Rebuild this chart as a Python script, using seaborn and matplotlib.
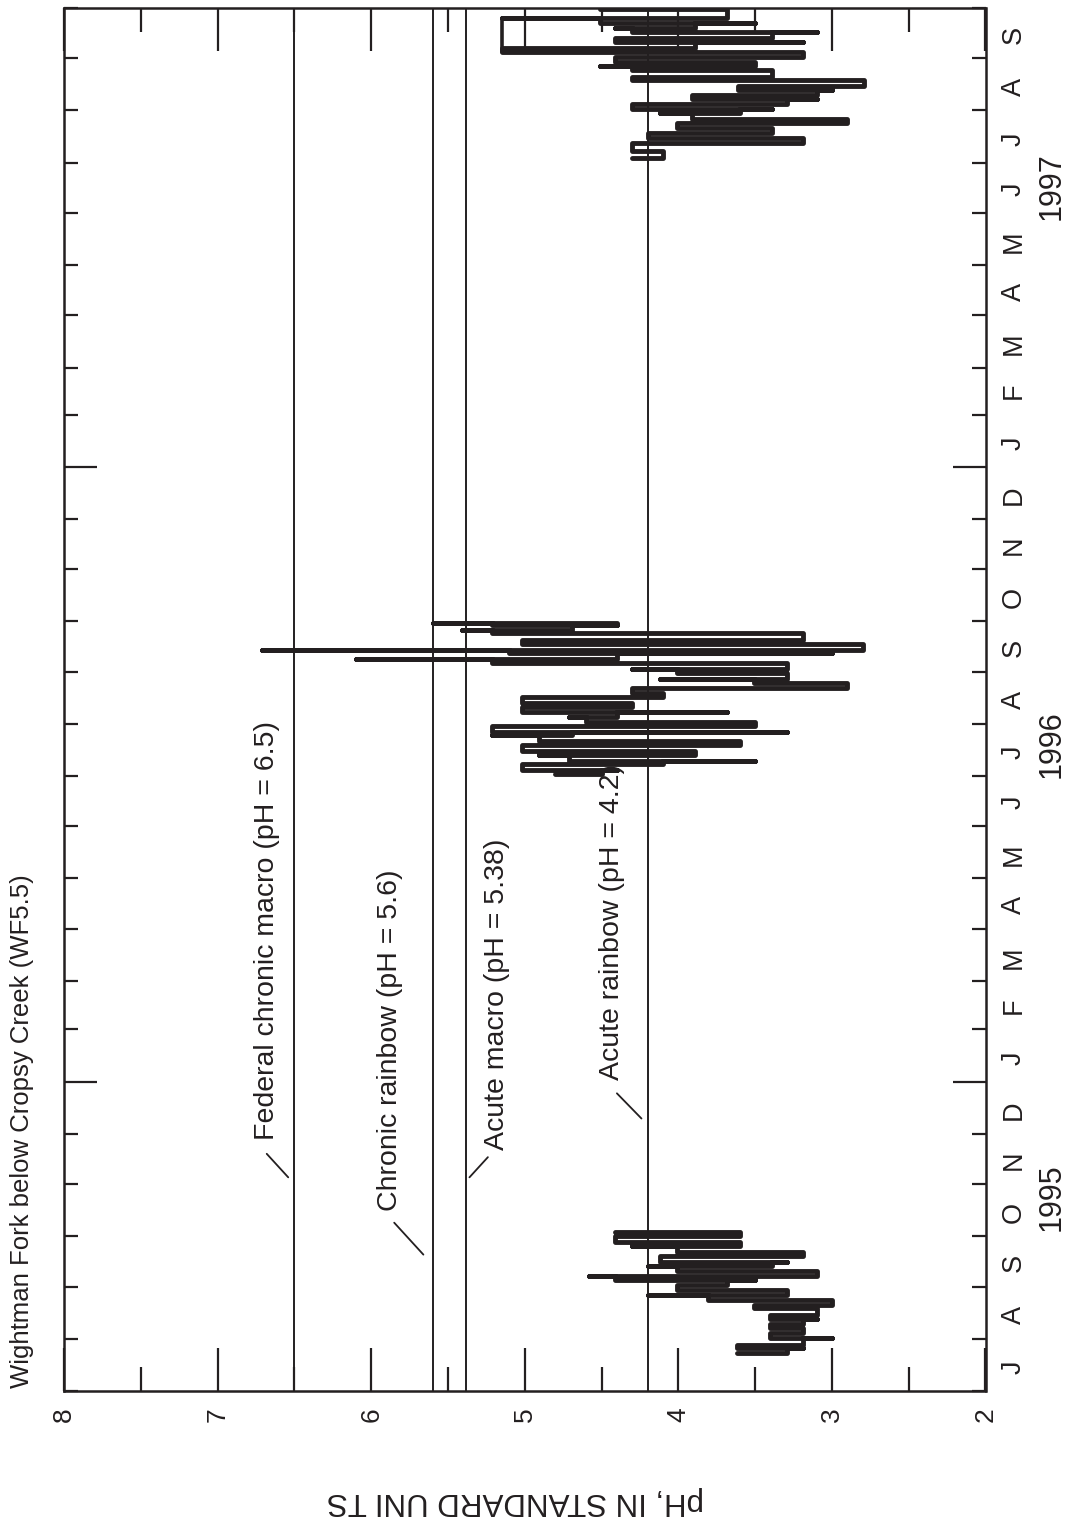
import numpy as np
import pandas as pd
import matplotlib
matplotlib.use('Agg')
import matplotlib.pyplot as plt
import matplotlib.transforms as mtransforms
import seaborn as sns

start = pd.Timestamp('1995-07-01')
end = pd.Timestamp('1997-10-01')

# each sweep: day after 1 Jul 1995, high pH end and low pH end
days_95 = [22.4, 25.4, 27.2, 31.4, 34.3, 37.3, 39.7, 42.7, 45.1, 49.2, 51.0, 54.0, 57.0,
           59.9, 62.9, 65.9, 68.3, 71.3, 74.2, 76.6, 80.2, 82.6, 86.1, 88.5, 92.1, 94.5]
high_95 = [3.62, 3.62, 3.51, 3.40, 3.40, 3.40, 3.40, 3.40, 3.29, 3.51, 3.51, 3.81, 4.20,
           4.01, 3.91, 4.41, 4.58, 4.01, 4.20, 4.12, 3.91, 4.01, 4.30, 4.41, 4.19, 4.41]
low_95 = [3.29, 3.19, 3.19, 3.00, 3.19, 3.19, 3.19, 3.10, 3.10, 3.10, 3.00, 3.29, 3.29,
          3.50, 3.68, 3.50, 3.10, 3.19, 3.39, 3.29, 3.19, 3.39, 3.60, 3.60, 3.60, 3.68]

days_96 = [367.1, 369.5, 373.0, 374.8, 378.4, 380.8, 384.3, 386.7, 390.3, 392.1, 395.7,
           398.0, 401.0, 404.0, 407.0, 409.4, 412.9, 415.3, 418.3, 421.3, 423.6, 427.2,
           429.6, 433.2, 435.5, 439.1, 440.9, 444.5, 446.8, 451.0, 452.8, 455.8, 457.0]
high_96 = [4.80, 5.02, 4.91, 4.71, 4.91, 5.02, 4.91, 4.91, 5.21, 5.21, 4.71,
           4.60, 4.71, 5.02, 4.91, 5.02, 4.69, 4.30, 4.01, 3.51, 4.12, 4.01,
           4.30, 5.21, 6.10, 5.10, 6.71, 5.02, 4.91, 5.21, 5.41, 5.21, 5.60]
low_96 = [4.50, 4.40, 4.10, 3.50, 3.89, 4.59, 3.60, 4.50, 4.69, 3.29, 3.50,
          4.30, 4.40, 3.68, 4.30, 4.30, 4.10, 4.10, 2.90, 3.29, 3.29, 3.29,
          3.29, 4.20, 4.40, 3.00, 2.80, 3.00, 3.19, 4.00, 4.69, 4.40, 4.40]

days_97 = [733.8, 737.9, 742.7, 745.7, 748.6, 751.6, 754.6, 757.0, 760.5, 762.9, 765.9,
           768.9, 771.3, 774.2, 776.6, 780.2, 782.0, 786.1, 788.5, 790.9, 793.9, 796.8,
           799.2, 802.8, 805.2, 808.7, 811.1, 814.1, 817.1, 822.5]
high_97 = [4.30, 4.30, 4.20, 4.20, 4.01, 4.01, 4.01, 3.91, 4.12, 4.30, 4.01,
           3.91, 3.81, 3.61, 3.61, 4.30, 4.30, 4.30, 4.51, 4.41, 4.30, 5.15,
           4.30, 4.41, 4.41, 4.30, 4.41, 4.51, 5.15, 4.51]
low_97 = [4.10, 4.10, 3.19, 4.00, 3.39, 3.60, 2.90, 2.90, 3.60, 3.39, 3.29,
          3.10, 3.10, 3.00, 2.79, 3.50, 3.39, 3.79, 3.50, 4.10, 3.19, 3.29,
          3.89, 3.19, 3.39, 3.10, 3.89, 3.50, 3.68, 4.30]
bridge_days_97 = [796.8, 817.1]
bridge_ph_97 = [5.15, 5.15]

ref_ph = [6.5, 5.6, 5.38, 4.2]
ref_names = ['Federal chronic macro (pH = 6.5)', 'Chronic rainbow (pH = 5.6)',
             'Acute macro (pH = 5.38)', 'Acute rainbow (pH = 4.2)']
ref_text_ph = [6.68, 5.88, 5.18, 4.43]
ref_text_day = [149, 107, 143, 185]
leader_ph = [(6.68, 6.54), (5.85, 5.66), (5.24, 5.36), (4.40, 4.24)]
leader_day = [(141, 127), (100, 81), (139, 127), (177, 162)]

month_letters = ['J', 'F', 'M', 'A', 'M', 'J', 'J', 'A', 'S', 'O', 'N', 'D']
years = ['1995', '1996', '1997']
year_label_day = [115, 385, 717]

title = 'Wightman Fork below Cropsy Creek (WF5.5)'
ylab = 'pH, IN STANDARD UNI TS'

ink = '#231f20'

sns.set_theme(style='ticks')
plt.rcParams['font.family'] = ['Liberation Sans', 'DejaVu Sans']
plt.rcParams['text.color'] = ink
plt.rcParams['xtick.color'] = ink
plt.rcParams['ytick.color'] = ink


def sweep_path(days, high, low):
    # sweeps joined by steps: hold the last pH until the next sweep
    xs, ys = [], []
    for i, (d, h, l) in enumerate(zip(days, high, low)):
        a, b = (h, l) if i % 2 == 0 else (l, h)
        if xs:
            xs.append(xs[-1])
            ys.append(d)
        xs += [a, b]
        ys += [d, d]
    return pd.DataFrame({'ph': xs, 'day': ys})


fig = plt.figure(figsize=(10.66, 15.22), dpi=100)
ax = fig.add_axes([64 / 1066, 1 - 1390.7 / 1522, 921.5 / 1066, 1382.7 / 1522])

for v in ref_ph:
    ax.axvline(v, color=ink, lw=1.4, zorder=1)

for d, h, l in [(days_95, high_95, low_95), (days_96, high_96, low_96), (days_97, high_97, low_97)]:
    path = sweep_path(d, h, l)
    sns.lineplot(data=path, x='ph', y='day', sort=False, estimator=None, color=ink, lw=3.5,
                 ax=ax, zorder=3)
sns.lineplot(x=bridge_ph_97, y=bridge_days_97, sort=False, estimator=None, color=ink, lw=2.6,
             ax=ax, zorder=3)

for name, tx, ty, lp, ld in zip(ref_names, ref_text_ph, ref_text_day, leader_ph, leader_day):
    ax.text(tx, ty, name, rotation=90, ha='center', va='bottom', fontsize=20.5)
    ax.plot(lp, ld, color=ink, lw=1.3)

total_days = (end - start).days
ax.set_xlim(8, 2)
ax.set_ylim(0, total_days)

ax.set_xticks(np.arange(2, 9))
ax.set_xticks(np.arange(2.5, 8, 1), minor=True)
ax.set_xticklabels([str(v) for v in range(2, 9)])
ax.tick_params(axis='x', which='major', direction='in', length=31, width=1.6,
               top=True, bottom=True, labelsize=19, pad=12, labelrotation=90)
ax.tick_params(axis='x', which='minor', direction='in', length=17, width=1.6,
               top=True, bottom=True)

month_starts = pd.date_range(start, end, freq='MS')
month_days = np.array((month_starts - start).days)
is_year = np.array(month_starts.month == 1)
ax.set_yticks(month_days[is_year])
ax.set_yticks(month_days[~is_year], minor=True)
ax.tick_params(axis='y', which='major', direction='in', length=24, width=1.6,
               left=True, right=True, labelleft=False)
ax.tick_params(axis='y', which='minor', direction='in', length=10, width=1.6,
               left=True, right=True)
ax.set_xlabel('')
ax.set_ylabel('')

trans = mtransforms.blended_transform_factory(ax.transAxes, ax.transData)
for ms, md in zip(month_starts[:-1], month_days[:-1]):
    ax.text(1.031, md + 14, month_letters[ms.month - 1], transform=trans, rotation=90,
            ha='center', va='center', fontsize=19.5)
for yl, yd in zip(years, year_label_day):
    ax.text(1.072, yd, yl, transform=trans, rotation=90, ha='center', va='center', fontsize=22)

for s in ax.spines.values():
    s.set_color(ink)
    s.set_linewidth(1.8)

fig.text(22 / 1066, 1 - 1388 / 1522, title, rotation=90, ha='center', va='bottom', fontsize=18.5)
fig.text(515 / 1066, 1 - 1501 / 1522, ylab, rotation=180, ha='center', va='center', fontsize=22.5)

fig.savefig('out.png', dpi=100, facecolor='white')
